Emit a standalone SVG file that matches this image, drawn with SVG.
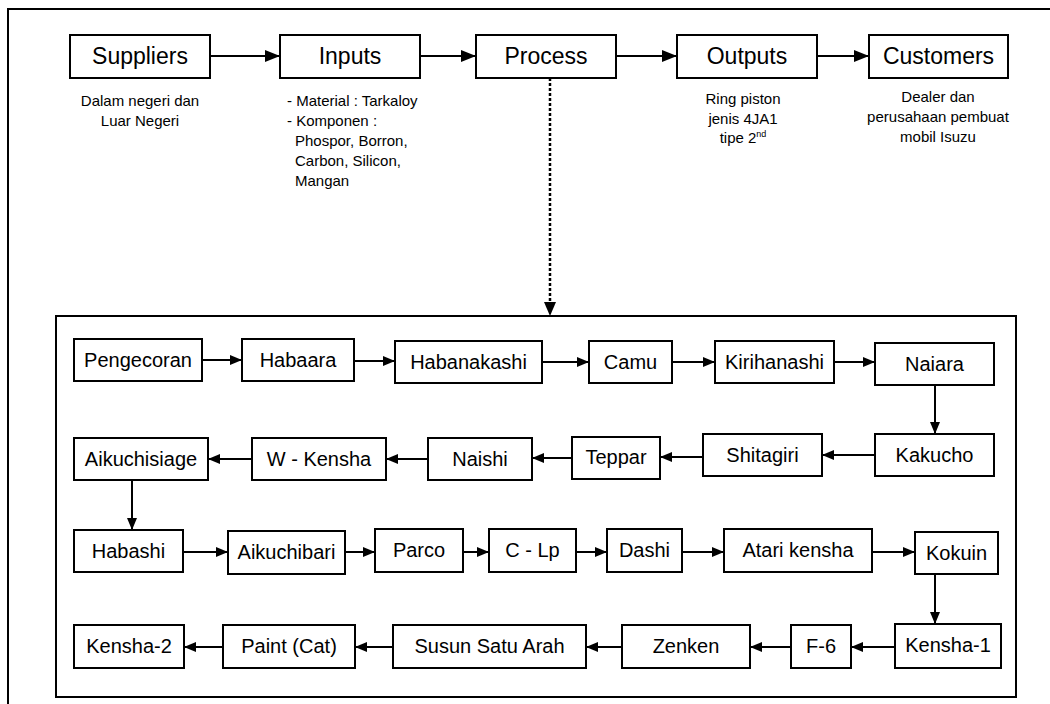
<svg xmlns="http://www.w3.org/2000/svg" width="1050" height="704" viewBox="0 0 1050 704">
<style>
.b{fill:#fff;stroke:#000;stroke-width:2}
.t{font-family:"Liberation Sans",Arial,sans-serif;fill:#000;text-anchor:middle}
.top{font-size:23px}
.in{font-size:20px}
.d{font-family:"Liberation Sans",Arial,sans-serif;font-size:15px;fill:#000}
.c{text-anchor:middle}
.a{stroke:#000;stroke-width:2;fill:none;marker-end:url(#ah)}
.A{stroke:#000;stroke-width:2;fill:none;marker-end:url(#ahb)}
</style>
<defs>
<marker id="ah" viewBox="0 0 12 10" refX="12" refY="5" markerWidth="12" markerHeight="10" markerUnits="userSpaceOnUse" orient="auto">
<path d="M0,0 L12,5 L0,10 z" fill="#000"/>
</marker>
<marker id="ahb" viewBox="0 0 15 12" refX="15" refY="6" markerWidth="15" markerHeight="12" markerUnits="userSpaceOnUse" orient="auto">
<path d="M0,0 L15,6 L0,12 z" fill="#000"/>
</marker>
</defs>
<rect width="1050" height="704" fill="#fff"/>
<path d="M8,710 V9 H1060" fill="none" stroke="#000" stroke-width="2"/>
<rect x="56" y="316" width="960" height="381" fill="none" stroke="#000" stroke-width="2"/>

<g id="connectors">
<line class="A" x1="210" y1="56" x2="280" y2="56"/>
<line class="A" x1="420" y1="56" x2="476" y2="56"/>
<line class="A" x1="616" y1="56" x2="677" y2="56"/>
<line class="A" x1="817" y1="56" x2="869" y2="56"/>
<line x1="550" y1="78" x2="550" y2="304" stroke="#000" stroke-width="2.5" stroke-dasharray="3,2"/>
<path d="M544,302 L556,302 L550,316 z" fill="#000"/>
<line class="a" x1="202" y1="360" x2="242" y2="360"/>
<line class="a" x1="354" y1="361" x2="395" y2="361"/>
<line class="a" x1="542" y1="362" x2="589" y2="362"/>
<line class="a" x1="672" y1="362" x2="715" y2="362"/>
<line class="a" x1="834" y1="362" x2="875" y2="362"/>
<line class="a" x1="935" y1="385" x2="935" y2="434"/>
<line class="a" x1="875" y1="455" x2="822" y2="455"/>
<line class="a" x1="703" y1="457" x2="660" y2="457"/>
<line class="a" x1="572" y1="458" x2="532" y2="458"/>
<line class="a" x1="428" y1="459" x2="386" y2="459"/>
<line class="a" x1="252" y1="459" x2="208" y2="459"/>
<line class="a" x1="132" y1="480" x2="132" y2="530"/>
<line class="a" x1="183" y1="552" x2="228" y2="552"/>
<line class="a" x1="345" y1="552" x2="375" y2="552"/>
<line class="a" x1="463" y1="552" x2="489" y2="552"/>
<line class="a" x1="576" y1="552" x2="607" y2="552"/>
<line class="a" x1="682" y1="552" x2="724" y2="552"/>
<line class="a" x1="872" y1="552" x2="915" y2="552"/>
<line class="a" x1="935" y1="574" x2="935" y2="624"/>
<line class="a" x1="895" y1="647" x2="851" y2="647"/>
<line class="a" x1="791" y1="647" x2="750" y2="647"/>
<line class="a" x1="622" y1="647" x2="586" y2="647"/>
<line class="a" x1="393" y1="647" x2="355" y2="647"/>
<line class="a" x1="223" y1="647" x2="184" y2="647"/>
</g>

<g id="suppliers"><rect class="b" x="70" y="35" width="140" height="43"/><text class="t top" x="140" y="64">Suppliers</text>
<text class="d c" x="140" y="106">Dalam negeri dan</text><text class="d c" x="140" y="126">Luar Negeri</text></g>
<g id="inputs"><rect class="b" x="280" y="35" width="140" height="43"/><text class="t top" x="350" y="64">Inputs</text>
<text class="d" x="287" y="106">- Material : Tarkaloy</text>
<text class="d" x="287" y="126">- Komponen :</text>
<text class="d" x="295" y="146">Phospor, Borron,</text>
<text class="d" x="295" y="166">Carbon, Silicon,</text>
<text class="d" x="295" y="186">Mangan</text></g>
<g id="process"><rect class="b" x="476" y="35" width="140" height="43"/><text class="t top" x="546" y="64">Process</text></g>
<g id="outputs"><rect class="b" x="677" y="35" width="140" height="43"/><text class="t top" x="747" y="64">Outputs</text>
<text class="d c" x="743" y="104">Ring piston</text>
<text class="d c" x="743" y="124">jenis 4JA1</text>
<text class="d c" x="743" y="143">tipe 2<tspan font-size="9" dy="-6">nd</tspan></text></g>
<g id="customers"><rect class="b" x="869" y="35" width="139" height="43"/><text class="t top" x="938.5" y="64">Customers</text>
<text class="d c" x="938" y="102">Dealer dan</text>
<text class="d c" x="938" y="122">perusahaan pembuat</text>
<text class="d c" x="938" y="142">mobil Isuzu</text></g>

<g id="pengecoran"><rect class="b" x="74" y="339" width="128" height="42"/><text class="t in" x="138" y="367">Pengecoran</text></g>
<g id="habaara"><rect class="b" x="242" y="339" width="112" height="42"/><text class="t in" x="298" y="367">Habaara</text></g>
<g id="habanakashi"><rect class="b" x="395" y="341" width="147" height="42"/><text class="t in" x="468.5" y="369">Habanakashi</text></g>
<g id="camu"><rect class="b" x="589" y="341" width="83" height="42"/><text class="t in" x="630.5" y="369">Camu</text></g>
<g id="kirihanashi"><rect class="b" x="715" y="341" width="119" height="42"/><text class="t in" x="774.5" y="369">Kirihanashi</text></g>
<g id="naiara"><rect class="b" x="875" y="343" width="119" height="42"/><text class="t in" x="934.5" y="371">Naiara</text></g>

<g id="aikuchisiage"><rect class="b" x="74" y="438" width="134" height="42"/><text class="t in" x="141" y="466">Aikuchisiage</text></g>
<g id="wkensha"><rect class="b" x="252" y="438" width="134" height="42"/><text class="t in" x="319" y="466">W - Kensha</text></g>
<g id="naishi"><rect class="b" x="428" y="438" width="104" height="42"/><text class="t in" x="480" y="466">Naishi</text></g>
<g id="teppar"><rect class="b" x="572" y="437" width="88" height="42"/><text class="t in" x="616" y="464">Teppar</text></g>
<g id="shitagiri"><rect class="b" x="703" y="434" width="119" height="42"/><text class="t in" x="762.5" y="462">Shitagiri</text></g>
<g id="kakucho"><rect class="b" x="875" y="434" width="119" height="42"/><text class="t in" x="934.5" y="462">Kakucho</text></g>

<g id="habashi"><rect class="b" x="74" y="530" width="109" height="42"/><text class="t in" x="128.5" y="558">Habashi</text></g>
<g id="aikuchibari"><rect class="b" x="228" y="531" width="117" height="43"/><text class="t in" x="286.5" y="559">Aikuchibari</text></g>
<g id="parco"><rect class="b" x="375" y="529" width="88" height="43"/><text class="t in" x="419" y="557">Parco</text></g>
<g id="clp"><rect class="b" x="489" y="529" width="87" height="43"/><text class="t in" x="532.5" y="557">C - Lp</text></g>
<g id="dashi"><rect class="b" x="607" y="529" width="75" height="43"/><text class="t in" x="644.5" y="557">Dashi</text></g>
<g id="atarikensha"><rect class="b" x="724" y="529" width="148" height="43"/><text class="t in" x="798" y="557">Atari kensha</text></g>
<g id="kokuin"><rect class="b" x="915" y="532" width="83" height="42"/><text class="t in" x="956.5" y="560">Kokuin</text></g>

<g id="kensha2"><rect class="b" x="74" y="625" width="110" height="43"/><text class="t in" x="129" y="653">Kensha-2</text></g>
<g id="paint"><rect class="b" x="223" y="625" width="132" height="43"/><text class="t in" x="289" y="653">Paint (Cat)</text></g>
<g id="susun"><rect class="b" x="393" y="625" width="193" height="43"/><text class="t in" x="489.5" y="653">Susun Satu Arah</text></g>
<g id="zenken"><rect class="b" x="622" y="625" width="128" height="43"/><text class="t in" x="686" y="653">Zenken</text></g>
<g id="f6"><rect class="b" x="791" y="625" width="60" height="43"/><text class="t in" x="821" y="653">F-6</text></g>
<g id="kensha1"><rect class="b" x="895" y="624" width="106" height="44"/><text class="t in" x="948" y="652">Kensha-1</text></g>
</svg>
